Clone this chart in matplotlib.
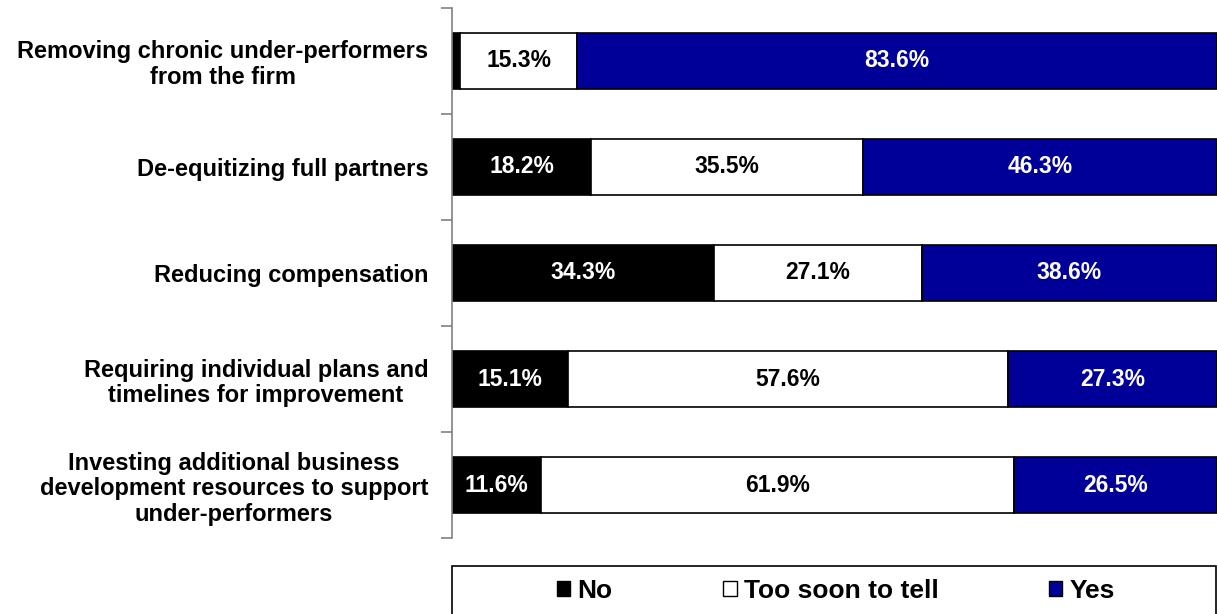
import matplotlib.pyplot as plt
from matplotlib.patches import Patch, Rectangle
import numpy as np

plt.rcParams['font.family'] = ['Liberation Sans', 'DejaVu Sans']

categories = [
    "Removing chronic under-performers\nfrom the firm",
    "De-equitizing full partners",
    "Reducing compensation",
    "Requiring individual plans and\ntimelines for improvement",
    "Investing additional business\ndevelopment resources to support\nunder-performers",
]
no_vals = [1.1, 18.2, 34.3, 15.1, 11.6]
soon_vals = [15.3, 35.5, 27.1, 57.6, 61.9]
yes_vals = [83.6, 46.3, 38.6, 27.3, 26.5]
series_names = ["No", "Too soon to tell", "Yes"]
colors = ["#000000", "#ffffff", "#000099"]
text_colors = ["white", "black", "white"]

fig = plt.figure(figsize=(12.17, 6.14), dpi=100)
ax = fig.add_axes([452/1217, 1-538/614, 1-452/1217, (538-8)/614])

y = np.arange(len(categories))
left = np.zeros(len(categories))
for vals, name, c, tc in zip([no_vals, soon_vals, yes_vals], series_names, colors, text_colors):
    vals = np.array(vals)
    ax.barh(y, vals, left=left, height=0.52, color=c, edgecolor='black', linewidth=1.2, label=name)
    for yi, l, v in zip(y, left, vals):
        if v >= 5:
            ax.text(l + v/2, yi, f"{v:.1f}%", ha='center', va='center', color=tc,
                    fontsize=16.5, fontweight='bold')
    left += vals

ax.set_xlim(0, 100)
ax.set_ylim(4.5, -0.5)
ax.set_yticks(y)
ax.set_yticklabels(categories, fontsize=17, fontweight='bold', multialignment='center',
                   linespacing=1.15)
ax.tick_params(axis='y', which='major', length=0, pad=17)
ax.set_yticks(np.arange(-0.5, 5, 1), minor=True)
ax.tick_params(axis='y', which='minor', length=8, width=1.2, color='#808080', direction='out')
ax.set_xticks([])
for s in ['top', 'right', 'bottom']:
    ax.spines[s].set_visible(False)
ax.spines['left'].set_color('#808080')
ax.spines['left'].set_linewidth(1.2)

# legend frame
fig.patches.append(Rectangle((452/1217, -0.01), 1-452/1217 - 0.0008, 48/614 + 0.01,
                             transform=fig.transFigure, facecolor='white',
                             edgecolor='black', linewidth=1.2, zorder=0))
handles = [Patch(facecolor=c, edgecolor='black', linewidth=1) for c in colors]
leg = fig.legend(handles, series_names, loc='center',
                 bbox_to_anchor=(836/1217, 1-591/614),
                 ncol=3, frameon=False,
                 prop={'size': 19, 'weight': 'bold'}, handlelength=0.5, handleheight=0.5,
                 handletextpad=0.27, borderaxespad=0, columnspacing=4.2, borderpad=0)

fig.savefig('out.png', dpi=100)
